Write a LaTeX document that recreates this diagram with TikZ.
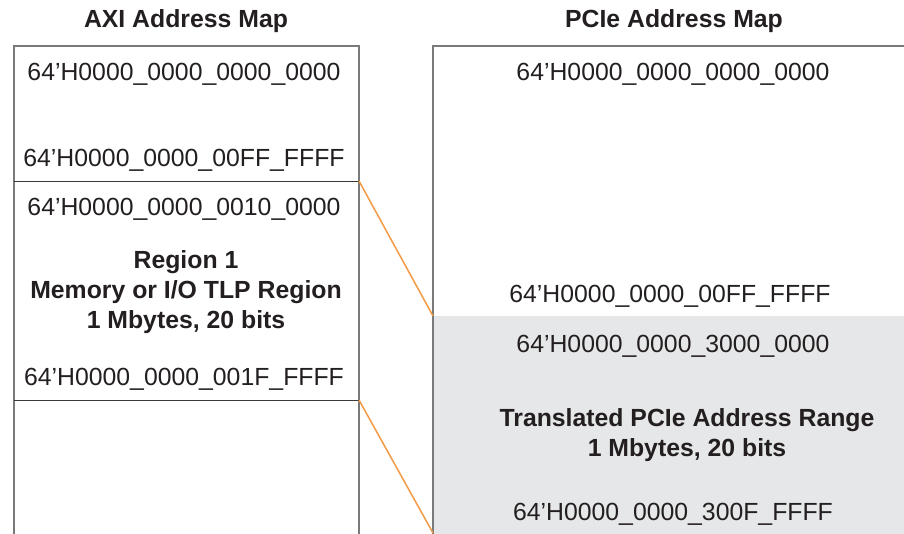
\documentclass[tikz,border=0pt]{standalone}
\usepackage{fontspec}
\setmainfont{Liberation Sans}
\definecolor{txt}{HTML}{231F20}
\definecolor{frame}{HTML}{7A7A7A}
\definecolor{sep}{HTML}{3A3A3A}
\definecolor{fillgray}{HTML}{E6E7E8}
\definecolor{orng}{HTML}{F39A44}
\begin{document}
\begin{tikzpicture}[x=1pt,y=-1pt,
  lbl/.style={font=\fontsize{24.8}{29}\selectfont, text=txt, inner sep=0pt, anchor=base},
  bl/.style={lbl, font=\fontsize{24.8}{29}\selectfont\bfseries},
  boxline/.style={draw=frame, line width=1.8pt},
  sepline/.style={draw=sep, line width=1pt},
  link/.style={draw=orng, line width=1.5pt}]
\useasboundingbox (0,0) rectangle (904,533);
\clip (0,0) rectangle (904,533);
% coordinates
\coordinate (Ltl) at (14,46);
\coordinate (Ltr) at (359,46);
\coordinate (Lbl) at (14,545);
\coordinate (Lbr) at (359,545);
\coordinate (Rtl) at (433,46);
\coordinate (Rtr) at (915,46);
\coordinate (Rbl) at (433,545);
\coordinate (S1l) at (14,181);
\coordinate (S1r) at (359,181);
\coordinate (S2l) at (14,400);
\coordinate (S2r) at (359,400);
\coordinate (P1) at (433,316);
\coordinate (P2) at (433,533);
\coordinate (Gbr) at (915,545);
% gray translated region
\fill[fillgray] (P1) rectangle (Gbr);
% boxes
\draw[boxline] (Lbl) -- (Ltl) -- (Ltr) -- (Lbr);
\draw[boxline] (Rbl) -- (Rtl) -- (Rtr);
\draw[sepline] (S1l) -- (S1r);
\draw[sepline] (S2l) -- (S2r);
% connectors
\draw[link] (S1r) -- (P1);
\draw[link] (S2r) -- (P2);
% titles
\node[bl] (tAXI) at (186,27) {AXI Address Map};
\node[bl] (tPCIe) at (674,27) {PCIe Address Map};
% left texts
\node[lbl] (a1) at (184,80) {64’H0000\_0000\_0000\_0000};
\node[lbl] (a2) at (184,166) {64’H0000\_0000\_00FF\_FFFF};
\node[lbl] (a3) at (184,215) {64’H0000\_0000\_0010\_0000};
\node[bl] (r1) at (186,268) {Region 1};
\node[bl] (r2) at (186,298) {Memory or I/O TLP Region};
\node[bl] (r3) at (186,328) {1 Mbytes, 20 bits};
\node[lbl] (a4) at (184,385) {64’H0000\_0000\_001F\_FFFF};
% right texts
\node[lbl] (b1) at (673,80) {64’H0000\_0000\_0000\_0000};
\node[lbl] (b2) at (670,302) {64’H0000\_0000\_00FF\_FFFF};
\node[lbl] (b3) at (673,352) {64’H0000\_0000\_3000\_0000};
\node[bl] (t1) at (687,426) {Translated PCIe Address Range};
\node[bl] (t2) at (687,456) {1 Mbytes, 20 bits};
\node[lbl] (b4) at (673,520) {64’H0000\_0000\_300F\_FFFF};
\end{tikzpicture}
\end{document}
